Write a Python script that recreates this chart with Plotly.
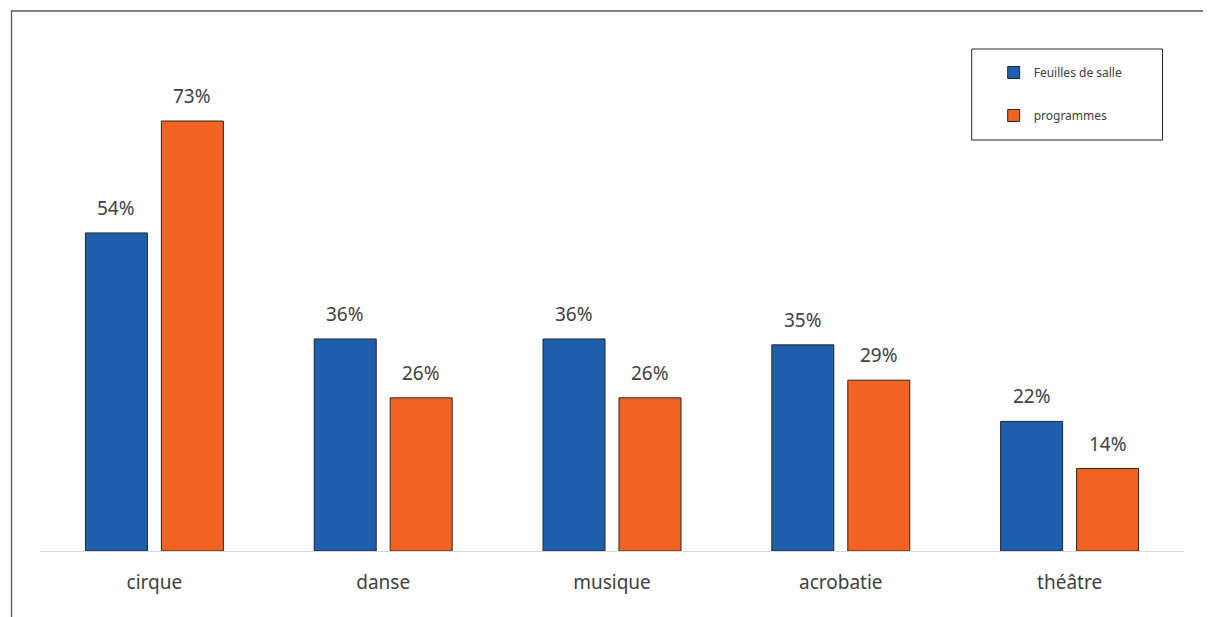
import plotly.graph_objects as go

categories = ["cirque", "danse", "musique", "acrobatie", "théâtre"]
feuilles = [54, 36, 36, 35, 22]
programmes = [73, 26, 26, 29, 14]
series_names = ["Feuilles de salle", "programmes"]
colors = ["#1D5FAC", "#F26323"]

# the page body adds an 8px offset; figure coordinates = page coordinates - 8
OFF = 8
W, H = 1211 - OFF, 617 - OFF
L, R, T, B = 31.5, 26.5, 32, 66
plot_w = W - L - R
plot_h = H - T - B
px_per_pct = 5.89
ymax = plot_h / px_per_pct

fig = go.Figure()
for name, vals, col in zip(series_names, [feuilles, programmes], colors):
    fig.add_trace(go.Bar(
        x=categories, y=vals, name=name, legendgroup=name,
        marker=dict(color=col, line=dict(color="#262626", width=1)),
    ))

# data labels
for i, vals in enumerate([feuilles, programmes]):
    shift = -38 if i == 0 else 38
    for c, v in zip(categories, vals):
        fig.add_annotation(x=c, y=v, xref="x", yref="y", text=f"{v}%",
                           showarrow=False, xshift=shift, yshift=10,
                           yanchor="bottom",
                           font=dict(size=19, color="#404040", family="Noto Sans"))

def px2x(p):
    return (p - OFF - L) / plot_w

def py2y(p):
    return (H - B - (p - OFF)) / plot_h

# outer frame (left & top visible)
fig.add_shape(type="rect", xref="paper", yref="paper",
              x0=px2x(11), x1=px2x(1260), y0=py2y(700), y1=py2y(11),
              line=dict(color="#595959", width=1.3), fillcolor="rgba(0,0,0,0)")
# legend box
fig.add_shape(type="rect", xref="paper", yref="paper",
              x0=px2x(972), x1=px2x(1163), y0=py2y(140), y1=py2y(49),
              line=dict(color="#262626", width=1), fillcolor="rgba(0,0,0,0)")

fig.update_layout(
    width=W, height=H,
    margin=dict(l=L, r=R, t=T, b=B),
    paper_bgcolor="white", plot_bgcolor="white",
    barmode="group", bargap=0.336, bargroupgap=0.184,
    showlegend=True,
    legend=dict(x=px2x(994), y=py2y(58), xanchor="left", yanchor="top",
                bgcolor="rgba(0,0,0,0)", borderwidth=0,
                font=dict(size=12, color="#404040", family="Noto Sans"),
                tracegroupgap=24, itemwidth=30),
    font=dict(family="Noto Sans", color="#404040"),
    xaxis=dict(showline=True, linecolor="#D9D9D9", linewidth=1,
               tickfont=dict(size=19, color="#404040"),
               ticks="", ticklabelstandoff=14, showgrid=False),
    yaxis=dict(range=[0, ymax], visible=False, showgrid=False, zeroline=False),
)

fig.write_html("out.html")
